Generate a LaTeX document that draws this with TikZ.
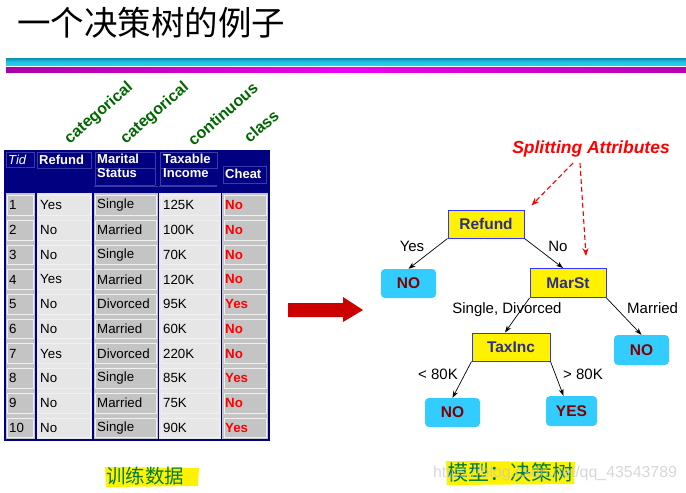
\documentclass[tikz,border=0pt]{standalone}
\usepackage{fontspec}
\setmainfont{Liberation Sans}
\newfontfamily\cjk{Noto Sans CJK SC}
\usetikzlibrary{arrows.meta,calc}
\definecolor{navy}{HTML}{000080}
\definecolor{hdrline}{HTML}{3a3aa8}
\definecolor{cellA}{HTML}{C4C4C4}
\definecolor{cellB}{HTML}{E6E6E6}
\definecolor{catgreen}{HTML}{006600}
\definecolor{cheatred}{HTML}{FF0000}
\definecolor{leafcyan}{HTML}{33CCFF}
\definecolor{leaftxt}{HTML}{800000}
\definecolor{decborder}{HTML}{3333FF}
\definecolor{dectxt}{HTML}{2E2E8A}
\definecolor{arrowred}{HTML}{CC0000}
\definecolor{capgreen}{HTML}{007A3D}
\definecolor{cybarT}{HTML}{0A8EB4}
\definecolor{cybarM}{HTML}{1CC0E2}
\definecolor{cybarB}{HTML}{2ACDEB}
\definecolor{magbarL}{HTML}{A800A8}
\definecolor{magbarM}{HTML}{F000F0}
\definecolor{magbarR}{HTML}{B400B4}
\tikzset{
  cellbox/.style={draw=white!75!cellA, line width=0.5pt},
  hdrtxt/.style={text=white, font=\fontsize{13}{15}\selectfont\bfseries, anchor=west, inner sep=0pt, align=left},
  datatxt/.style={text=black, font=\fontsize{13.3}{15}\selectfont, anchor=west, inner sep=0pt},
  cheattxt/.style={text=cheatred, font=\fontsize{13.3}{15}\selectfont\bfseries, anchor=west, inner sep=0pt},
  cattxt/.style={text=catgreen, font=\fontsize{16}{18}\selectfont\bfseries, rotate=41, anchor=south west, inner sep=0pt},
  decbox/.style={draw=decborder, line width=1pt, fill=yellow, text=dectxt, font=\fontsize{15.5}{17}\selectfont\bfseries, minimum height=28pt, inner sep=0pt},
  leafbox/.style={fill=leafcyan, rounded corners=4pt, text=leaftxt, font=\fontsize{15.5}{17}\selectfont\bfseries, minimum height=29pt, minimum width=55pt, inner sep=0pt},
  edge/.style={draw=black, line width=0.7pt, -{Stealth[length=7pt,width=5pt]}},
  redge/.style={draw=red, line width=1.1pt, dash pattern=on 5pt off 3pt, -{Stealth[length=8pt,width=6pt]}},
  elabel/.style={font=\fontsize{15}{17}\selectfont, text=black, inner sep=0pt},
}
\begin{document}
\begin{tikzpicture}[x=1pt,y=-1pt]
\useasboundingbox (0,0) rectangle (686,493);
% title
\node[anchor=west, inner sep=0pt, font=\cjk\fontsize{33.5}{35}\selectfont] (title) at (17,23) {一个决策树的例子};
% bars
\shade[top color=cybarT, bottom color=cybarB, middle color=cybarM] (6,58) rectangle (686,65);
\shade[left color=magbarL, right color=magbarR, middle color=magbarM] (6,67) rectangle (686,72);
% header
\fill[navy] (5,151) rectangle (269,193);
\foreach \c/\xa/\xb in {A/5/36,B/36/93,A/93/158.5,B/158.5/221.5,A/221.5/269}{
  \fill[cell\c] (\xa,193) rectangle (\xb,440);
  \foreach \i in {1,...,10}{
    \draw[cellbox] ({\xa+2.5},{193+(\i-1)*24.7+2.5}) rectangle ({\xb-2.5},{193+\i*24.7-2.5});
  }
}
% header inner lines
\draw[hdrline, line width=0.6pt] (6.5,152) rectangle (34.5,167.5);
\draw[hdrline, line width=0.6pt] (37.5,152) rectangle (91.5,168);
\draw[hdrline, line width=0.6pt] (95,152) rectangle (155,168) (95,168) -- (95,185) -- (155,185) (155,168) -- (155,185);
\draw[hdrline, line width=0.6pt] (160,152) rectangle (217,168) (160,168) -- (160,185) -- (217,185);
\draw[hdrline, line width=0.6pt] (223,166) rectangle (266,183);
\draw[hdrline, line width=0.6pt] (93,186) -- (217,186);
% column dividers and border
\foreach \x in {36,93,158.5,221.5}{ \draw[navy, line width=1.2pt] (\x,151) -- (\x,440); }
\draw[navy, line width=1.4pt] (5,151) rectangle (269,440);
% header text
\node[hdrtxt, font=\fontsize{13}{15}\selectfont\itshape] (hTid) at (8,160) {Tid};
\node[hdrtxt] (hRefund) at (39,160) {Refund};
\node[hdrtxt, anchor=north west] (hMarital) at (97,154) {Marital\\[-1.5pt]Status};
\node[hdrtxt, anchor=north west] (hTaxable) at (163,154) {Taxable\\[-1.5pt]Income};
\node[hdrtxt] (hCheat) at (225,173.5) {Cheat};
% data
\foreach \i/\r/\m/\t/\ch [count=\k] in {1/Yes/Single/125K/No,2/No/Married/100K/No,3/No/Single/70K/No,4/Yes/Married/120K/No,5/No/Divorced/95K/Yes,6/No/Married/60K/No,7/Yes/Divorced/220K/No,8/No/Single/85K/Yes,9/No/Married/75K/No,10/No/Single/90K/Yes}{
  \node[datatxt] (tid\k) at (9,{193+(\k-0.5)*24.7}) {\i};
  \node[datatxt] (ref\k) at (40,{193+(\k-0.5)*24.7}) {\r};
  \node[datatxt] (mar\k) at (97,{193+(\k-0.5)*24.7}) {\m};
  \node[datatxt] (inc\k) at (163,{193+(\k-0.5)*24.7}) {\t};
  \node[cheattxt] (cht\k) at (225,{193+(\k-0.5)*24.7}) {\ch};
}
% rotated labels
\node[cattxt] (cat1) at (72,147) {categorical};
\node[cattxt] (cat2) at (128,147) {categorical};
\node[cattxt] (cont) at (194,147) {continuous};
\node[cattxt] (cls) at (250,144) {class};
% caption left
\fill[yellow] (105,467) -- (199,468) -- (198,486) -- (106,487) -- cycle;
\node[inner sep=0pt, text=capgreen, font=\cjk\fontsize{19.5}{21}\selectfont] (capL) at (145,476) {训练数据};
% big arrow
\fill[arrowred] (288,303) -- (343,303) -- (343,297) -- (363,310) -- (343,322) -- (343,317) -- (288,317) -- cycle;
% tree
\node[decbox, minimum width=76pt] (refund) at (486,224) {Refund};
\node[decbox, minimum width=76pt, minimum height=29pt] (marst) at (568,283) {MarSt};
\node[decbox, minimum width=78pt] (taxinc) at (511,347) {TaxInc};
\node[leafbox] (no1) at (408.5,283.5) {NO};
\node[leafbox, minimum height=30pt] (no2) at (641.5,350) {NO};
\node[leafbox] (no3) at (452.5,412.5) {NO};
\node[leafbox, minimum width=51pt, minimum height=30pt] (yes) at (571.5,411) {YES};
\node[inner sep=0pt, text=red, font=\fontsize{17.5}{19}\selectfont\bfseries\itshape] (split) at (591,149) {Splitting Attributes};
\coordinate (s1) at (573,163);
\coordinate (s2) at (580,163);
\draw[redge] (s1) -- ($(refund.north east)+(7,-4)$);
\draw[redge] (s2) -- ($(marst.north)+(18,-12)$);
\draw[edge] (refund.south west) -- (no1.north);
\draw[edge] (refund.south east) -- ($(marst.north)+(-5,0)$);
\draw[edge] (marst.south west) -- ($(taxinc.north)+(-6,0)$);
\draw[edge] (marst.south east) -- (no2.north);
\draw[edge] (taxinc.south west) -- (no3.north);
\draw[edge] (taxinc.south east) -- ($(yes.north)+(-8,0)$);
\node[elabel] (lyes) at (412,246) {Yes};
\node[elabel] (lno) at (558,246) {No};
\node[elabel] (lsd) at (507,310) {Single, Divorced};
\node[elabel, anchor=west] (lmar) at (627,308) {Married};
\node[elabel] (llt) at (438,374) {< 80K};
\node[elabel] (lgt) at (583,374) {> 80K};
% caption right
\fill[yellow] (446,461) -- (575,462) -- (574,484) -- (447,485) -- cycle;
\node[inner sep=0pt, text=capgreen, font=\cjk\fontsize{21}{23}\selectfont] (capR) at (510,472) {模型：决策树};
\node[inner sep=0pt, text=gray!45, opacity=0.7, font=\fontsize{15.9}{17}\selectfont] (wm) at (555,473) {https://blog.csdn.net/qq\_43543789};
\end{tikzpicture}
\end{document}
